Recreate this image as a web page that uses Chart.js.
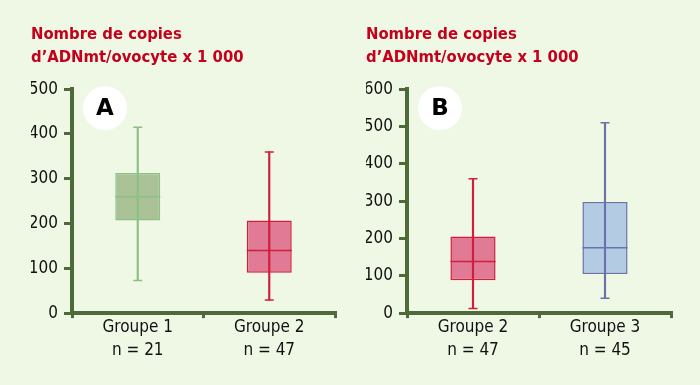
<!DOCTYPE html>
<html>
<head>
<meta charset="utf-8">
<script src="https://cdn.jsdelivr.net/npm/chart.js@4/dist/chart.umd.min.js"></script>
<style>
  body { margin: 0; background: #eff8e4; }
  .wrap { position: absolute; top: 0; width: 350px; height: 385px; }
</style>
</head>
<body>
<div class="wrap" style="left:0"><canvas id="chartA"></canvas></div>
<div class="wrap" style="left:350px"><canvas id="chartB"></canvas></div>
<script>
const titleLines = ['Nombre de copies', 'd\u2019ADNmt/ovocyte x 1 000'];

// panel A
const labelsA = [['Groupe 1', 'n = 21'], ['Groupe 2', 'n = 47']];
const minA = [73, 29];
const q1A = [207, 90];
const medA = [260, 140];
const q3A = [313, 207];
const maxA = [415, 360];
const ticksA = [0, 100, 200, 300, 400, 500];

// panel B
const labelsB = [['Groupe 2', 'n = 47'], ['Groupe 3', 'n = 45']];
const minB = [12, 40];
const q1B = [88, 105];
const medB = [138, 175];
const q3B = [205, 298];
const maxB = [360, 510];
const ticksB = [0, 100, 200, 300, 400, 500, 600];

const GREEN = { fill: '#aac296', line: '#8cc084' };
const RED = { fill: '#e07a95', line: '#d01e3c' };
const BLUE = { fill: '#b3cce4', line: '#6a72a8' };
const AXIS = '#4e6a3a';
const FONT = '"DejaVu Sans Condensed"';

// white disc with the panel letter
const letterPlugin = {
  id: 'letter',
  afterDraw(chart, args, opts) {
    const ctx = chart.ctx;
    const x = chart.chartArea.left + 33, y = chart.chartArea.top + 19;
    ctx.save();
    ctx.fillStyle = '#ffffff';
    ctx.beginPath();
    ctx.arc(x, y, 22, 0, Math.PI * 2);
    ctx.fill();
    ctx.fillStyle = '#000';
    ctx.font = 'bold 23px "DejaVu Sans"';
    ctx.textAlign = 'center';
    ctx.textBaseline = 'middle';
    ctx.fillText(opts.text, x, y + 1);
    ctx.restore();
  }
};

function boxChart(id, letter, padLeft, padRight, labels, mins, q1, med, q3, maxs, ticks, colors) {
  const fills = colors.map(c => c.fill);
  const lines = colors.map(c => c.line);
  new Chart(document.getElementById(id), {
    type: 'bar',
    data: {
      labels: labels,
      datasets: [
        {
          // whisker line, drawn over the box
          data: mins.map((m, i) => [m, maxs[i]]),
          backgroundColor: lines,
          barThickness: 1.5,
          grouped: false,
          order: 1
        },
        {
          data: q1.map((q, i) => [q, q3[i]]),
          backgroundColor: fills,
          borderColor: lines,
          borderWidth: 1.5,
          borderSkipped: false,
          barPercentage: 0.342,
          categoryPercentage: 1,
          grouped: false,
          order: 2
        },
        {
          type: 'line',
          data: med,
          showLine: false,
          pointStyle: 'line',
          pointRadius: 22.5,
          pointBorderWidth: 1.5,
          pointBorderColor: lines,
          order: 0
        },
        {
          type: 'line',
          data: mins,
          showLine: false,
          pointStyle: 'line',
          pointRadius: 4.5,
          pointBorderWidth: 1.5,
          pointBorderColor: lines,
          order: 0
        },
        {
          type: 'line',
          data: maxs,
          showLine: false,
          pointStyle: 'line',
          pointRadius: 4.5,
          pointBorderWidth: 1.5,
          pointBorderColor: lines,
          order: 0
        }
      ]
    },
    options: {
      responsive: true,
      maintainAspectRatio: false,
      animation: false,
      layout: {
        autoPadding: false,
        padding: { left: padLeft, right: padRight, top: 23, bottom: 25 }
      },
      plugins: {
        legend: { display: false },
        tooltip: { enabled: false },
        title: {
          display: true,
          text: titleLines,
          align: 'start',
          color: '#c4001c',
          font: { family: FONT, size: 16.5, weight: 'bold', lineHeight: 1.4 },
          padding: { top: 0, bottom: 20 }
        },
        letter: { text: letter }
      },
      scales: {
        x: {
          offset: true,
          grid: {
            offset: true,
            drawOnChartArea: false,
            color: AXIS,
            lineWidth: 3,
            tickLength: 5
          },
          border: { color: AXIS, width: 4 },
          ticks: {
            color: '#111',
            padding: -2,
            font: { family: FONT, size: 17, lineHeight: 1.35 }
          }
        },
        y: {
          min: 0,
          max: ticks[ticks.length - 1],
          afterBuildTicks: s => { s.ticks = ticks.map(v => ({ value: v })); },
          afterFit: s => { s.width = 41; },
          grid: {
            drawOnChartArea: false,
            color: AXIS,
            lineWidth: 3,
            tickLength: 8
          },
          border: { color: AXIS, width: 4 },
          ticks: {
            color: '#111',
            padding: 6,
            font: { family: FONT, size: 17 }
          }
        }
      }
    },
    plugins: [letterPlugin]
  });
}

boxChart('chartA', 'A', 31, 15, labelsA, minA, q1A, medA, q3A, maxA, ticksA, [GREEN, RED]);
boxChart('chartB', 'B', 16, 29, labelsB, minB, q1B, medB, q3B, maxB, ticksB, [RED, BLUE]);
</script>
</body>
</html>
